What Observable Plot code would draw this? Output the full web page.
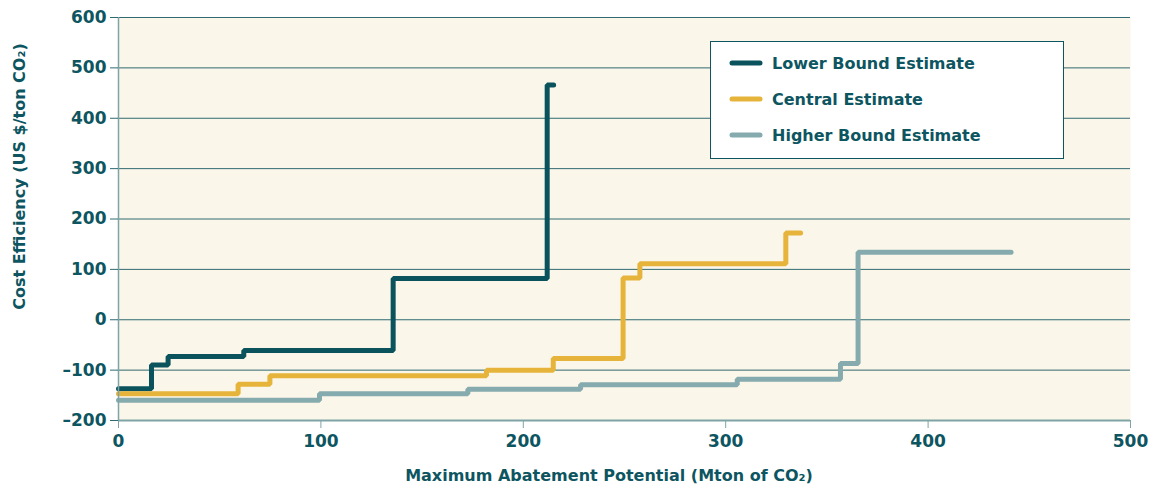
<!DOCTYPE html>
<html>
<head>
<meta charset="utf-8">
<script src="https://cdn.jsdelivr.net/npm/d3@7"></script>
<script src="https://cdn.jsdelivr.net/npm/@observablehq/plot@0.6"></script>
<style>
  html, body { margin: 0; padding: 0; background: #ffffff; }
  #chart { width: 1151px; height: 489px; }
  svg { font-family: "DejaVu Sans", sans-serif; }
</style>
</head>
<body>
<div id="chart"></div>
<script>
// ---- data ----
const seriesNames = ["Lower Bound Estimate", "Central Estimate", "Higher Bound Estimate"];
const seriesColors = ["#0b535c", "#e6b43a", "#86abae"];

const lowerX = [0, 16.3, 24.5, 61.9, 135.7, 211.8, 215];
const lowerY = [-137, -90, -73, -61, 82, 466, 466];

const centralX = [0, 59.1, 74.8, 181.8, 214.8, 249.3, 257.6, 329.7, 337];
const centralY = [-147, -128, -111, -100, -77, 83, 111, 172, 172];

const higherX = [0, 99.3, 172.6, 228.3, 305.7, 356.7, 365.4, 441];
const higherY = [-160, -147, -138, -129, -118, -87, 134, 134];

const xTicks = [0, 100, 200, 300, 400, 500];
const yTicks = [-200, -100, 0, 100, 200, 300, 400, 500, 600];

const xLabel = "Maximum Abatement Potential (Mton of CO₂)";
const yLabel = "Cost Efficiency (US $/ton CO₂)";

// ---- build table ----
const rows = [];
[[lowerX, lowerY], [centralX, centralY], [higherX, higherY]].forEach(([xs, ys], i) => {
  xs.forEach((x, j) => rows.push({series: seriesNames[i], x, y: ys[j]}));
});

const textColor = "#0d5560";
const gridColor = "#2f6a70";
const axisColor = "#7fa4a6";

const W = 1151, H = 489;
const mLeft = 118, mRight = 21, mTop = 17, mBottom = 69;

const plot = Plot.plot({
  width: W,
  height: H,
  marginLeft: mLeft,
  marginRight: mRight,
  marginTop: mTop,
  marginBottom: mBottom,
  style: {background: "#ffffff", color: textColor, fontFamily: "DejaVu Sans, sans-serif"},
  x: {domain: [0, 500], ticks: xTicks, label: null},
  y: {domain: [-200, 600], ticks: yTicks, label: null},
  color: {domain: seriesNames, range: seriesColors},
  marks: [
    Plot.frame({fill: "#fbf6ea", stroke: null}),
    Plot.ruleY(yTicks.filter(d => d > -200), {stroke: gridColor, strokeWidth: 1, x1: 0, x2: 500}),
    Plot.line(rows, {
      x: "x", y: "y", z: "series", stroke: "series",
      curve: "step-after", strokeWidth: 5,
      strokeLinejoin: "miter", strokeLinecap: "round"
    }),
    Plot.ruleY([-200], {stroke: axisColor, strokeWidth: 2}),
    Plot.ruleX([0], {stroke: axisColor, strokeWidth: 1.5}),
    Plot.axisY({ticks: yTicks, tickSize: 8, tickPadding: 4, stroke: gridColor,
      fontSize: 17, fontWeight: "bold", fill: textColor, label: null,
      tickFormat: d => d < 0 ? "–" + Math.abs(d) : String(d)}),
    Plot.axisX({ticks: xTicks, tickSize: 8, tickPadding: 6, stroke: axisColor,
      fontSize: 17, fontWeight: "bold", fill: textColor, label: null})
  ]
});

document.getElementById("chart").appendChild(plot);

// ---- axis titles and legend ----
const svg = d3.select(plot);
const xs = plot.scale("x"), ys = plot.scale("y");
const cx = (xs.apply(0) + xs.apply(500)) / 2 - 15;
const cy = (ys.apply(600) + ys.apply(-200)) / 2 - 42;

svg.append("text")
  .attr("x", cx).attr("y", H - 8)
  .attr("text-anchor", "middle")
  .attr("fill", textColor).attr("font-size", 16).attr("font-weight", "bold")
  .text(xLabel);

svg.append("text")
  .attr("transform", `translate(25,${cy}) rotate(-90)`)
  .attr("text-anchor", "middle")
  .attr("fill", textColor).attr("font-size", 16).attr("font-weight", "bold")
  .text(yLabel);

const lg = svg.append("g").attr("transform", "translate(710,41)");
lg.append("rect").attr("x", 0.5).attr("y", 0.5).attr("width", 353).attr("height", 117)
  .attr("fill", "#ffffff").attr("stroke", textColor).attr("stroke-width", 1);
seriesNames.forEach((name, i) => {
  const yy = 22 + i * 36;
  lg.append("line").attr("x1", 22).attr("x2", 50).attr("y1", yy).attr("y2", yy)
    .attr("stroke", seriesColors[i]).attr("stroke-width", 5).attr("stroke-linecap", "round");
  lg.append("text").attr("x", 62).attr("y", yy).attr("dy", "0.35em")
    .attr("text-anchor", "start")
    .attr("fill", textColor).attr("font-size", 16).attr("font-weight", "bold")
    .text(name);
});
</script>
</body>
</html>
